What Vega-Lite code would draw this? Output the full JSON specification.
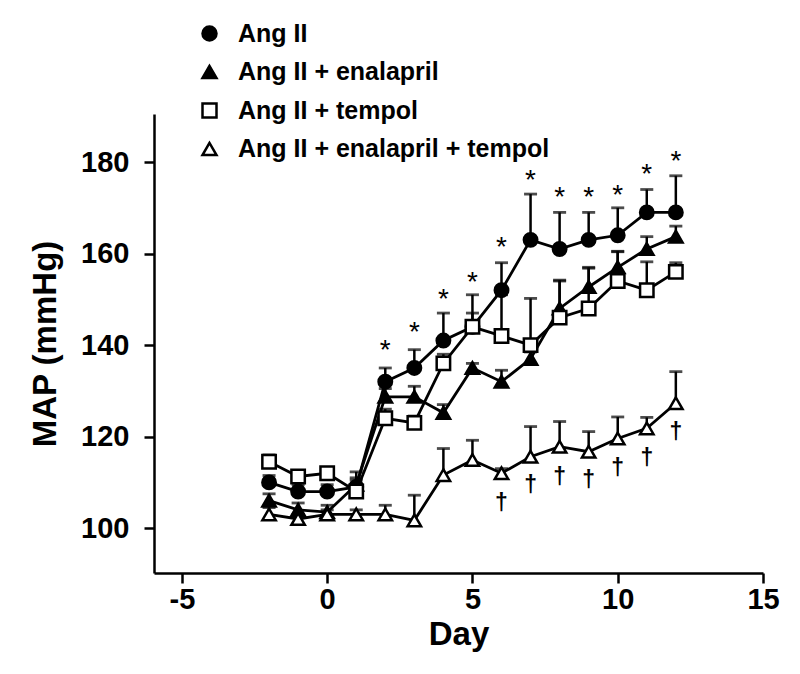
{
  "$schema": "https://vega.github.io/schema/vega-lite/v6.json",
  "width": 609,
  "height": 459,
  "autosize": {"type": "none"},
  "padding": {"left": 154, "top": 114, "right": 37, "bottom": 101},
  "background": "white",
  "config": {
    "view": {"stroke": null},
    "font": "Liberation Sans",
    "axis": {
      "domainColor": "black", "domainWidth": 2.5,
      "tickColor": "black", "tickWidth": 2.5, "tickSize": 10,
      "labelFont": "Liberation Sans", "labelFontWeight": "bold", "labelFontSize": 29, "labelColor": "black",
      "titleFont": "Liberation Sans", "titleFontWeight": "bold", "titleFontSize": 33, "titleColor": "black",
      "grid": false
    },
    "legend": {
      "orient": "none", "legendX": 43, "legendY": -93, "padding": 0,
      "labelFont": "Liberation Sans", "labelFontWeight": "bold", "labelFontSize": 25, "labelColor": "black",
      "labelOffset": 16, "labelLimit": 600, "rowPadding": 12.5,
      "symbolSize": 196, "symbolStrokeWidth": 2.5
    }
  },
  "datasets": {
    "groups": [
      {"series": "Ang II", "day": -2, "map": 110, "upper": 111.5},
      {"series": "Ang II", "day": -1, "map": 108, "upper": 109.5},
      {"series": "Ang II", "day": 0, "map": 108, "upper": 109.5},
      {"series": "Ang II", "day": 1, "map": 109, "upper": 110.5},
      {"series": "Ang II", "day": 2, "map": 132, "upper": 135},
      {"series": "Ang II", "day": 3, "map": 135, "upper": 139},
      {"series": "Ang II", "day": 4, "map": 141, "upper": 147},
      {"series": "Ang II", "day": 5, "map": 144, "upper": 151},
      {"series": "Ang II", "day": 6, "map": 152, "upper": 158},
      {"series": "Ang II", "day": 7, "map": 163, "upper": 173},
      {"series": "Ang II", "day": 8, "map": 161, "upper": 169},
      {"series": "Ang II", "day": 9, "map": 163, "upper": 169},
      {"series": "Ang II", "day": 10, "map": 164, "upper": 170},
      {"series": "Ang II", "day": 11, "map": 169, "upper": 174},
      {"series": "Ang II", "day": 12, "map": 169, "upper": 177},
      {"series": "Ang II + enalapril", "day": -2, "map": 106, "upper": 107.5},
      {"series": "Ang II + enalapril", "day": -1, "map": 104, "upper": 105.5},
      {"series": "Ang II + enalapril", "day": 0, "map": 103.5, "upper": 105},
      {"series": "Ang II + enalapril", "day": 1, "map": 109.5, "upper": 111},
      {"series": "Ang II + enalapril", "day": 2, "map": 128.7, "upper": 130.5},
      {"series": "Ang II + enalapril", "day": 3, "map": 128.7, "upper": 131},
      {"series": "Ang II + enalapril", "day": 4, "map": 125.2, "upper": 127},
      {"series": "Ang II + enalapril", "day": 5, "map": 135, "upper": 136},
      {"series": "Ang II + enalapril", "day": 6, "map": 132, "upper": 134.5},
      {"series": "Ang II + enalapril", "day": 7, "map": 137, "upper": 138.5},
      {"series": "Ang II + enalapril", "day": 8, "map": 148, "upper": 154},
      {"series": "Ang II + enalapril", "day": 9, "map": 152.7, "upper": 157},
      {"series": "Ang II + enalapril", "day": 10, "map": 157, "upper": 160.5},
      {"series": "Ang II + enalapril", "day": 11, "map": 161, "upper": 163.7},
      {"series": "Ang II + enalapril", "day": 12, "map": 163.7, "upper": 166},
      {"series": "Ang II + tempol", "day": -2, "map": 114.5, "upper": 116},
      {"series": "Ang II + tempol", "day": -1, "map": 111.3, "upper": 112.5},
      {"series": "Ang II + tempol", "day": 0, "map": 112, "upper": 113},
      {"series": "Ang II + tempol", "day": 1, "map": 108, "upper": 112.3},
      {"series": "Ang II + tempol", "day": 2, "map": 124, "upper": 126},
      {"series": "Ang II + tempol", "day": 3, "map": 123, "upper": 124.5},
      {"series": "Ang II + tempol", "day": 4, "map": 136, "upper": 138},
      {"series": "Ang II + tempol", "day": 5, "map": 144, "upper": 147},
      {"series": "Ang II + tempol", "day": 6, "map": 142, "upper": 151},
      {"series": "Ang II + tempol", "day": 7, "map": 140, "upper": 150.2},
      {"series": "Ang II + tempol", "day": 8, "map": 146, "upper": 154.2},
      {"series": "Ang II + tempol", "day": 9, "map": 148, "upper": 156.8},
      {"series": "Ang II + tempol", "day": 10, "map": 154, "upper": 160.4},
      {"series": "Ang II + tempol", "day": 11, "map": 152, "upper": 158.2},
      {"series": "Ang II + tempol", "day": 12, "map": 156, "upper": 158},
      {"series": "Ang II + enalapril + tempol", "day": -2, "map": 103, "upper": 104.5},
      {"series": "Ang II + enalapril + tempol", "day": -1, "map": 102, "upper": 103},
      {"series": "Ang II + enalapril + tempol", "day": 0, "map": 103, "upper": 104},
      {"series": "Ang II + enalapril + tempol", "day": 1, "map": 103, "upper": 104},
      {"series": "Ang II + enalapril + tempol", "day": 2, "map": 103, "upper": 105},
      {"series": "Ang II + enalapril + tempol", "day": 3, "map": 101.7, "upper": 107.2},
      {"series": "Ang II + enalapril + tempol", "day": 4, "map": 111.6, "upper": 117.4},
      {"series": "Ang II + enalapril + tempol", "day": 5, "map": 114.9, "upper": 119.2},
      {"series": "Ang II + enalapril + tempol", "day": 6, "map": 112, "upper": 113},
      {"series": "Ang II + enalapril + tempol", "day": 7, "map": 115.6, "upper": 122.2},
      {"series": "Ang II + enalapril + tempol", "day": 8, "map": 117.8, "upper": 123.3},
      {"series": "Ang II + enalapril + tempol", "day": 9, "map": 116.7, "upper": 121.1},
      {"series": "Ang II + enalapril + tempol", "day": 10, "map": 119.6, "upper": 124.3},
      {"series": "Ang II + enalapril + tempol", "day": 11, "map": 121.8, "upper": 124.2},
      {"series": "Ang II + enalapril + tempol", "day": 12, "map": 127.3, "upper": 134.2}
    ],
    "marks": [
      {"day": 2, "pos": 140.4, "sign": "*"},
      {"day": 3, "pos": 144.4, "sign": "*"},
      {"day": 4, "pos": 151.7, "sign": "*"},
      {"day": 5, "pos": 155.3, "sign": "*"},
      {"day": 6, "pos": 162.9, "sign": "*"},
      {"day": 7, "pos": 177.5, "sign": "*"},
      {"day": 8, "pos": 173.9, "sign": "*"},
      {"day": 9, "pos": 173.9, "sign": "*"},
      {"day": 10, "pos": 174.3, "sign": "*"},
      {"day": 11, "pos": 179, "sign": "*"},
      {"day": 12, "pos": 181.7, "sign": "*"}
    ],
    "daggers": [
      {"day": 6, "pos": 105.5, "sign": "†"},
      {"day": 7, "pos": 109.4, "sign": "†"},
      {"day": 8, "pos": 111.1, "sign": "†"},
      {"day": 9, "pos": 110.5, "sign": "†"},
      {"day": 10, "pos": 113.1, "sign": "†"},
      {"day": 11, "pos": 115.3, "sign": "†"},
      {"day": 12, "pos": 121, "sign": "†"}
    ]
  },
  "layer": [
    {
      "data": {"name": "groups"},
      "mark": {"type": "line", "color": "black", "strokeWidth": 2.8},
      "encoding": {
        "x": {"field": "day", "type": "quantitative", "scale": {"domain": [-5.96, 15], "nice": false, "zero": false},
              "axis": {"values": [-5, 0, 5, 10, 15], "labelExpr": "'' + datum.value", "title": "Day", "labelPadding": 2, "titlePadding": 4, "labelFlush": false}},
        "y": {"field": "map", "type": "quantitative", "scale": {"domain": [90.2, 190.5], "nice": false, "zero": false},
              "axis": {"values": [100, 120, 140, 160, 180], "title": "MAP (mmHg)", "labelPadding": 15, "titlePadding": 18, "labelFlush": false}},
        "detail": {"field": "series", "type": "nominal"}
      }
    },
    {
      "data": {"name": "groups"},
      "mark": {"type": "rule", "color": "black", "strokeWidth": 2.5},
      "encoding": {
        "x": {"field": "day", "type": "quantitative"},
        "y": {"field": "map", "type": "quantitative"},
        "y2": {"field": "upper"}
      }
    },
    {
      "data": {"name": "groups"},
      "mark": {"type": "tick", "color": "black", "orient": "horizontal", "size": 13, "thickness": 2.8},
      "encoding": {
        "x": {"field": "day", "type": "quantitative"},
        "y": {"field": "upper", "type": "quantitative"}
      }
    },
    {
      "data": {"name": "groups"},
      "mark": {"type": "point", "filled": true, "strokeWidth": 2.5, "opacity": 1, "size": 180},
      "encoding": {
        "x": {"field": "day", "type": "quantitative"},
        "y": {"field": "map", "type": "quantitative"},
        "shape": {"field": "series", "type": "nominal",
                  "scale": {"domain": ["Ang II", "Ang II + enalapril", "Ang II + tempol", "Ang II + enalapril + tempol"],
                            "range": ["circle", "triangle-up", "square", "triangle-up"]},
                  "legend": {"title": null}},
        "fill": {"field": "series", "type": "nominal",
                 "scale": {"domain": ["Ang II", "Ang II + enalapril", "Ang II + tempol", "Ang II + enalapril + tempol"],
                           "range": ["black", "black", "white", "white"]},
                 "legend": {"title": null}},
        "stroke": {"field": "series", "type": "nominal",
                 "scale": {"domain": ["Ang II", "Ang II + enalapril", "Ang II + tempol", "Ang II + enalapril + tempol"],
                           "range": ["black", "black", "black", "black"]},
                 "legend": {"title": null}}
      }
    },
    {
      "data": {"name": "marks"},
      "mark": {"type": "text", "font": "Liberation Sans", "fontSize": 28, "baseline": "middle", "align": "center", "dy": 8, "color": "black"},
      "encoding": {
        "x": {"field": "day", "type": "quantitative"},
        "y": {"field": "pos", "type": "quantitative"},
        "text": {"field": "sign"}
      }
    },
    {
      "data": {"name": "daggers"},
      "mark": {"type": "text", "font": "Liberation Sans", "fontWeight": "bold", "fontSize": 23, "baseline": "middle", "align": "center", "color": "black"},
      "encoding": {
        "x": {"field": "day", "type": "quantitative"},
        "y": {"field": "pos", "type": "quantitative"},
        "text": {"field": "sign"}
      }
    }
  ]
}
